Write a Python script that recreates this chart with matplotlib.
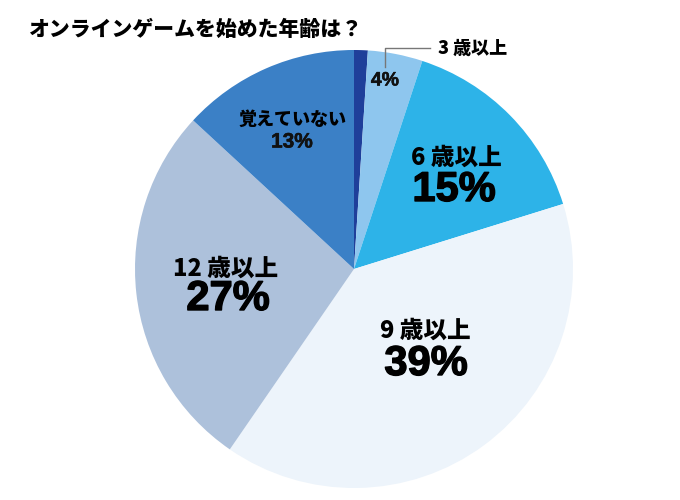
import matplotlib.pyplot as plt
import matplotlib.patheffects as pe

plt.rcParams['font.family'] = ['Noto Sans CJK JP', 'DejaVu Sans']

# slices, clockwise from 12 o'clock
labels = ['', '3 歳以上', '6 歳以上', '9 歳以上', '12 歳以上', '覚えていない']
values = [1, 4, 15, 39, 27, 13]
pct_text = ['', '4%', '15%', '39%', '27%', '13%']
colors = ['#1f3f9a', '#8ec6ee', '#2db3e8', '#edf4fb', '#adc1db', '#3b80c6']

CX, CY, R = 354, 269, 219
W, H = 680, 500
NUM_FONT = ['Liberation Sans', 'DejaVu Sans']
heavy_big = [pe.withStroke(linewidth=1.0, foreground='black')]
heavy_small = [pe.withStroke(linewidth=0.4, foreground='#111111')]


def px(x, y):
    # pixel position -> pie data coordinates
    return (x - CX) / R, (CY - y) / R


fig = plt.figure(figsize=(6.8, 5.0), dpi=100)
ax = fig.add_axes([(CX - R) / W, (H - CY - R) / H, 2 * R / W, 2 * R / H])
ax.pie(values, colors=colors, startangle=90, counterclock=False, radius=1,
       wedgeprops=dict(linewidth=0))
ax.set_xlim(-1, 1)
ax.set_ylim(-1, 1)
ax.set_aspect('auto')
ax.axis('off')

fig.text(28 / W, 1 - 30 / H, 'オンラインゲームを始めた年齢は？', fontsize=15,
         fontweight='black', va='center', ha='left')

# 3歳以上 with leader line
x0, y0 = px(385, 67)
x1, y1 = px(385, 48)
x2, y2 = px(430, 48)
ax.plot([x0, x1, x2], [y0, y1, y2], color='#777777', lw=1, clip_on=False)
ax.text(*px(473, 48), labels[1], fontsize=13, fontweight='black',
        ha='center', va='center')
ax.text(*px(385, 81), pct_text[1], fontsize=14, fontweight='bold',
        family=NUM_FONT, ha='center', va='center', color='#111111',
        path_effects=heavy_small)

# 6歳以上
ax.text(*px(456, 157), labels[2], fontsize=17, fontweight='black',
        ha='center', va='center')
ax.text(*px(454, 190), pct_text[2], fontsize=30, fontweight='bold',
        family=NUM_FONT, ha='center', va='center', path_effects=heavy_big)

# 9歳以上
ax.text(*px(425, 330), labels[3], fontsize=17, fontweight='black',
        ha='center', va='center')
ax.text(*px(426, 364), pct_text[3], fontsize=30, fontweight='bold',
        family=NUM_FONT, ha='center', va='center', path_effects=heavy_big)

# 12歳以上
ax.text(*px(226, 268), labels[4], fontsize=17, fontweight='black',
        ha='center', va='center')
ax.text(*px(228, 299), pct_text[4], fontsize=30, fontweight='bold',
        family=NUM_FONT, ha='center', va='center', path_effects=heavy_big)

# 覚えていない
ax.text(*px(292, 119), labels[5], fontsize=13, fontweight='black',
        ha='center', va='center')
ax.text(*px(292, 142), pct_text[5], fontsize=15, fontweight='bold',
        family=NUM_FONT, ha='center', va='center', color='#111111',
        path_effects=heavy_small)

fig.savefig('out.png', dpi=100)
